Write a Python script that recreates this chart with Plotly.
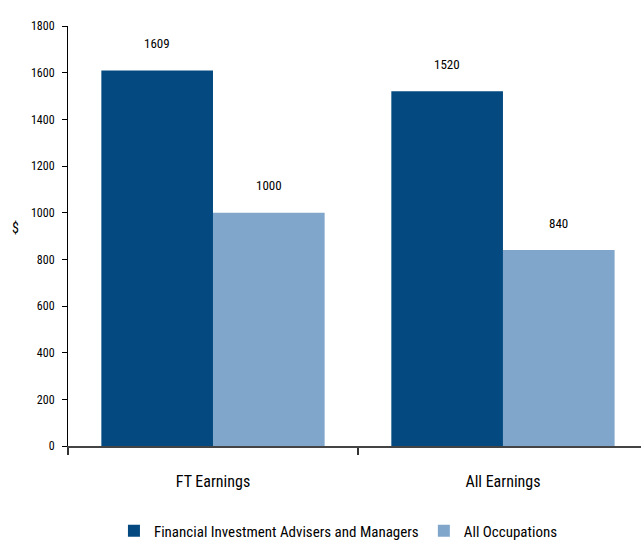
import plotly.graph_objects as go

categories = ["FT Earnings", "All Earnings"]
series_names = ["Financial Investment Advisers and Managers", "All Occupations"]
advisers = [1609, 1520]
all_occ = [1000, 840]
colors = ["#044A80", "#80A6CB"]
y_ticks = list(range(0, 1801, 200))

FONT = "Roboto Condensed, DejaVu Sans Condensed, sans-serif"

fig = go.Figure()
for name, vals, col in zip(series_names, [advisers, all_occ], colors):
    fig.add_trace(go.Bar(x=categories, y=vals, name=name, marker=dict(color=col, line=dict(width=0))))

annotations = []
for vals, shift in [(advisers, -56), (all_occ, 56)]:
    for c, v in zip(categories, vals):
        annotations.append(dict(x=c, y=v, text=str(v), showarrow=False, xshift=shift, yshift=27,
                                font=dict(family=FONT, size=13, color="#000")))
annotations.append(dict(xref="paper", yref="paper", x=-0.092, y=0.52, text="$", showarrow=False,
                        font=dict(family=FONT, size=14, color="#000"), xanchor="center"))

fig.update_layout(
    width=641, height=544,
    margin=dict(l=68, r=0, t=26, b=98),
    paper_bgcolor="white", plot_bgcolor="white",
    barmode="group", bargap=0.23, bargroupgap=0,
    showlegend=True,
    legend=dict(orientation="h", xref="container", yref="container", x=0.528, xanchor="center",
                y=0.024, yanchor="middle",
                font=dict(family=FONT, size=15, color="#000"), itemwidth=30, tracegroupgap=0),
    annotations=annotations,
    xaxis=dict(type="category", range=[-0.5, 1.476], tickson="boundaries", ticks="outside",
               ticklen=7, tickcolor="#333", tickwidth=1.5, showline=True, linecolor="#444", linewidth=2,
               tickfont=dict(family=FONT, size=16, color="#000"), ticklabelstandoff=20,
               showgrid=False),
    yaxis=dict(range=[0, 1800], tickvals=y_ticks, ticks="outside", ticklen=5, tickcolor="#000",
               showline=True, linecolor="#000", linewidth=1, showgrid=False, zeroline=False,
               tickfont=dict(family=FONT, size=12, color="#000"), ticklabelstandoff=5),
    font=dict(family=FONT),
)

fig.write_html("out.html", config={"displayModeBar": False},
               post_script="document.body.style.margin='0';")
